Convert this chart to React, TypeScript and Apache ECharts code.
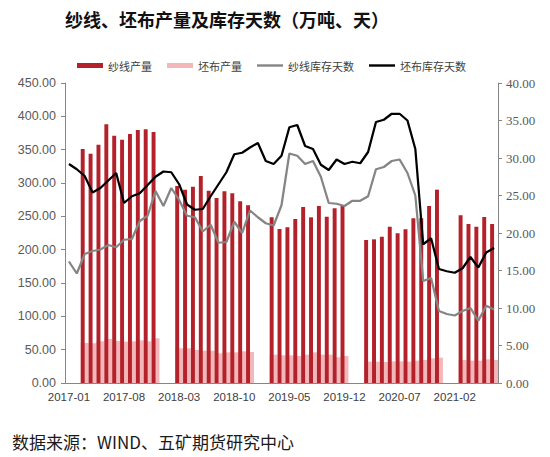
import React, { useEffect, useRef } from "react";
import * as echarts from "echarts";

// Monthly categories 2017-01 .. 2021-07
const categories: string[] = [];
for (let y = 2017; y <= 2021; y++) {
  for (let m = 1; m <= 12; m++) {
    if (y === 2021 && m > 7) break;
    categories.push(`${y}-${m < 10 ? "0" + m : m}`);
  }
}

const N = null;
// 纱线产量 (万吨), Jan/Feb missing
const yarnOutput = [
  N, N, 351, 344, 357.5, 388, 371, 365, 373.5, 379.5, 380.5, 376.5,
  N, N, 295.5, 290, 294.5, 310.5, 288.5, 277.5, 287.5, 284.5, 272.5, 266.5,
  N, N, 248.5, 231, 233.5, 246, 264, 248.5, 265.5, 249.5, 262, 266,
  N, N, 214.5, 215.5, 219.5, 234.5, 224.5, 230.5, 247, 247, 265.5, 290,
  N, N, 251.5, 238.5, 234.5, 249, 238.5,
];
// 坯布产量 (万吨)
const clothOutput = [
  N, N, 60, 59.5, 62.5, 66, 63, 62, 62.5, 64, 62.5, 67,
  N, N, 52, 52, 49.5, 48.5, 48.5, 44.5, 46, 46, 47.5, 46.5,
  N, N, 42.5, 41.5, 41.5, 40.5, 42.5, 46, 42.5, 42.5, 38.5, 40.5,
  N, N, 32, 32, 31.5, 32.5, 32.5, 32, 33.5, 34.5, 37, 38,
  N, N, 34.5, 33.5, 33.5, 35.5, 34.5,
];
// 纱线库存天数 (天)
const yarnStockDays = [
  16.2, 14.6, 17.2, 17.6, 17.8, 18.4, 18.1, 19.1, 19.2, 21.6, 22.3, 25.6,
  23.6, 26.0, 24.4, 22.3, 22.1, 20.2, 21.1, 18.7, 18.8, 21.5, 20.0, 23.0,
  22.1, 21.3, 21.0, 23.7, 30.6, 30.3, 29.2, 29.6, 27.5, 24.0, 23.9, 23.6,
  24.3, 24.3, 24.9, 28.5, 28.8, 29.6, 29.8, 28.0, 25.0, 13.6, 14.0, 9.6,
  9.2, 9.0, 9.6, 10.0, 8.3, 10.3, 9.8,
];
// 坯布库存天数 (天)
const clothStockDays = [
  29.2, 28.5, 27.6, 25.4, 26.0, 27.0, 28.0, 24.0, 24.9, 25.3, 26.4, 27.5,
  28.2, 28.1, 26.5, 23.8, 23.1, 23.2, 24.9, 26.5, 28.1, 30.5, 30.7, 31.4,
  32.0, 29.6, 29.2, 30.3, 34.1, 34.4, 31.6, 31.2, 29.1, 28.4, 29.8, 29.2,
  29.5, 29.3, 30.8, 34.8, 35.1, 35.9, 35.9, 35.0, 31.2, 18.5, 19.3, 15.2,
  14.9, 14.7, 15.3, 16.8, 15.4, 17.4, 18.0,
];

const RED = "#B3222A";
const PINK = "#F3B7BA";
const GRAY = "#858585";
const BLACK = "#000000";
const AXIS = "#868686";
const LINE_ICON = "path://M0,0H26V2.4H0Z";

export default function App() {
  const ref = useRef<HTMLDivElement>(null);
  useEffect(() => {
    if (!ref.current) return;
    const chart = echarts.init(ref.current, undefined, { renderer: "svg" });
    const sans = "Liberation Sans, Arial, sans-serif";
    const cjk = "Noto Sans CJK SC, sans-serif";
    chart.setOption({
      animation: false,
      backgroundColor: "#ffffff",
      title: {
        text: "纱线、坯布产量及库存天数（万吨、天）",
        left: 65,
        top: 10,
        padding: 0,
        textStyle: { fontFamily: cjk, fontSize: 18, fontWeight: "bold", color: "#111111" },
      },
      legend: {
        left: 72,
        top: 55,
        itemWidth: 26,
        itemHeight: 5,
        itemGap: 15,
        textStyle: { fontFamily: cjk, fontSize: 11, color: "#404040" },
        data: [
          { name: "纱线产量", icon: "rect" },
          { name: "坯布产量", icon: "rect" },
          { name: "纱线库存天数", icon: LINE_ICON },
          { name: "坯布库存天数", icon: LINE_ICON },
        ],
      },
      grid: { left: 65, right: 52, top: 83, bottom: 74, containLabel: false },
      xAxis: {
        type: "category",
        data: categories,
        boundaryGap: true,
        axisLine: { lineStyle: { color: AXIS, width: 1 } },
        axisTick: { interval: 6, length: 4, lineStyle: { color: AXIS } },
        axisLabel: { interval: 6, fontFamily: sans, fontSize: 11.5, color: "#404040", margin: 8 },
        splitLine: { show: false },
      },
      yAxis: [
        {
          type: "value",
          min: 0,
          max: 450,
          interval: 50,
          axisLine: { show: true, lineStyle: { color: AXIS } },
          axisTick: { show: true, length: 4, lineStyle: { color: AXIS } },
          axisLabel: {
            fontFamily: sans,
            fontSize: 12.5,
            color: "#595959",
            margin: 9,
            formatter: (v: number) => v.toFixed(2),
          },
          splitLine: { show: false },
        },
        {
          type: "value",
          position: "right",
          min: 0,
          max: 40,
          interval: 5,
          axisLine: { show: true, lineStyle: { color: AXIS } },
          axisTick: { show: true, length: 4, lineStyle: { color: AXIS } },
          axisLabel: {
            fontFamily: "Liberation Serif, serif",
            fontSize: 13,
            color: "#595959",
            margin: 8,
            formatter: (v: number) => v.toFixed(2),
          },
          splitLine: { show: false },
        },
      ],
      series: [
        {
          name: "纱线产量",
          type: "bar",
          data: yarnOutput,
          barWidth: "50%",
          barGap: "-100%",
          itemStyle: { color: RED },
          z: 3,
        },
        {
          name: "坯布产量",
          type: "bar",
          data: clothOutput,
          barWidth: "100%",
          barGap: "-100%",
          itemStyle: { color: PINK },
          z: 2,
        },
        {
          name: "纱线库存天数",
          type: "line",
          yAxisIndex: 1,
          data: yarnStockDays,
          symbol: "none",
          lineStyle: { color: GRAY, width: 2.25 },
          itemStyle: { color: GRAY },
          z: 4,
        },
        {
          name: "坯布库存天数",
          type: "line",
          yAxisIndex: 1,
          data: clothStockDays,
          symbol: "none",
          lineStyle: { color: BLACK, width: 2.25 },
          itemStyle: { color: BLACK },
          z: 5,
        },
      ],
      graphic: [
        {
          type: "text",
          left: 12,
          top: 433,
          style: {
            text: "数据来源：WIND、五矿期货研究中心",
            fontFamily: cjk,
            fontSize: 17,
            fill: "#1a1a1a",
          },
        },
      ],
    });
    return () => chart.dispose();
  }, []);
  return <div ref={ref} style={{ width: 550, height: 457, position: "absolute", left: 0, top: 0 }} />;
}
